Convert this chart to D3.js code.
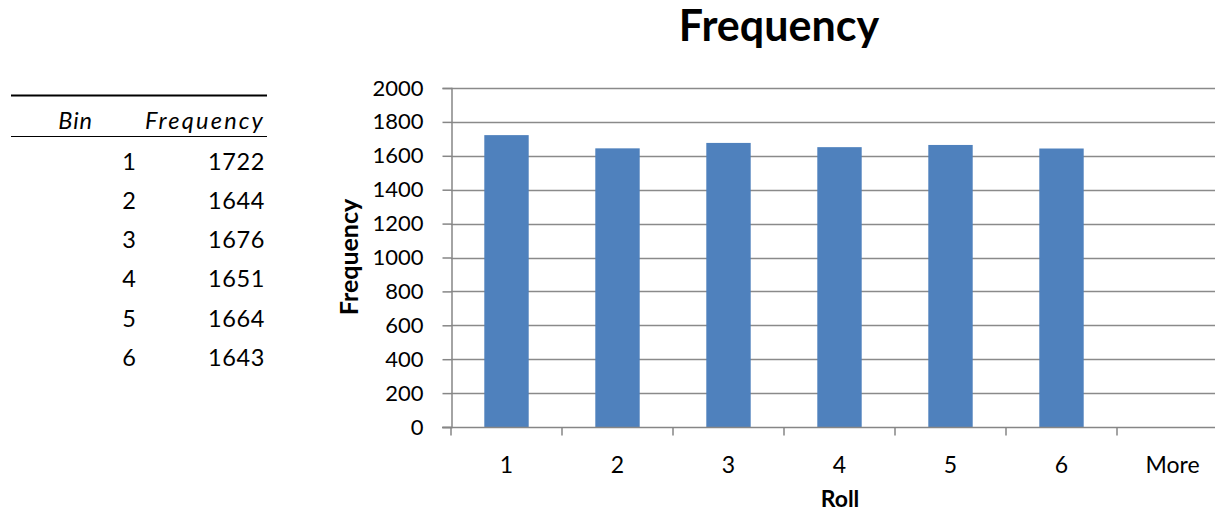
<!DOCTYPE html>
<html><head><meta charset="utf-8">
<script src="https://cdn.jsdelivr.net/npm/d3@7"></script>
<style>body{margin:0;background:#fff;} svg{display:block;font-family:Lato, "Open Sans", sans-serif;}</style>
</head><body>
<svg id="c" width="1215" height="513"></svg>
<script>
const categories = ["1","2","3","4","5","6","More"];
const frequencies = [1722,1644,1676,1651,1664,1643,0];
const tableBins = [1,2,3,4,5,6];
const tableFreq = [1722,1644,1676,1651,1664,1643];
const yTicks = [0,200,400,600,800,1000,1200,1400,1600,1800,2000];

(function(){
const svg = d3.select("#c");
const pLeft = 451, pRight = 1228, pTop = 88, pBottom = 427;
const x = d3.scaleBand().domain(categories).range([pLeft, pRight]).paddingInner(0).paddingOuter(0);
const y = d3.scaleLinear().domain([0,2000]).range([pBottom, pTop]);

// table
const tfs = 23.5;
const tb = svg.append("g");
tb.append("line").attr("x1",11).attr("x2",267).attr("y1",95.5).attr("y2",95.5).attr("stroke","#000").attr("stroke-width",2);
tb.append("line").attr("x1",11).attr("x2",267).attr("y1",136.5).attr("y2",136.5).attr("stroke","#000").attr("stroke-width",1);
tb.append("text").attr("x",93).attr("y",129).attr("text-anchor","end").attr("font-style","italic").attr("font-size",tfs).attr("letter-spacing",1).text("Bin");
tb.append("text").attr("x",265).attr("y",129).attr("text-anchor","end").attr("font-style","italic").attr("font-size",tfs).attr("letter-spacing",2.2).text("Frequency");
const rowY = d3.scaleLinear().domain([0,5]).range([169.5,366]);
tableBins.forEach((b,i)=>{
  tb.append("text").attr("x",136).attr("y",rowY(i)).attr("text-anchor","end").attr("font-size",tfs).text(b);
  tb.append("text").attr("x",265).attr("y",rowY(i)).attr("text-anchor","end").attr("font-size",tfs).attr("letter-spacing",0.6).text(tableFreq[i]);
});

// gridlines
svg.append("g").selectAll("line").data(yTicks.filter(d=>d>0)).join("line")
  .attr("x1",pLeft).attr("x2",pRight).attr("y1",d=>Math.round(y(d))+0.5).attr("y2",d=>Math.round(y(d))+0.5)
  .attr("stroke","#8a8a8a").attr("stroke-width",1.5);

// bars
const bw = x.bandwidth()*0.4;
svg.append("g").selectAll("rect").data(categories.map((c,i)=>({c,v:frequencies[i]})).filter(d=>d.v>0)).join("rect")
  .attr("x",d=>x(d.c)+x.bandwidth()/2-bw/2).attr("width",bw)
  .attr("y",d=>y(d.v)).attr("height",d=>y(0)-y(d.v)).attr("fill","#4F81BD");

// y axis
const ya = svg.append("g").attr("transform",`translate(${pLeft+0.5},0)`)
  .call(d3.axisLeft(y).tickValues(yTicks).tickSize(9).tickPadding(19).tickFormat(d3.format("d")));
ya.select(".domain").attr("stroke","#868686").attr("stroke-width",1.5);
ya.selectAll(".tick line").attr("stroke","#868686").attr("stroke-width",1.5);
ya.selectAll("text").attr("font-size",22).attr("fill","#000").attr("font-family","Lato, sans-serif");

// x axis
const xa = svg.append("g").attr("transform",`translate(0,${pBottom+0.5})`);
xa.append("line").attr("x1",pLeft-9).attr("x2",pRight).attr("stroke","#868686").attr("stroke-width",1.5);
xa.selectAll("line.t").data(categories).join("line").attr("class","t")
  .attr("x1",d=>x(d)).attr("x2",d=>x(d)).attr("y1",0).attr("y2",8).attr("stroke","#868686").attr("stroke-width",1.5);
xa.selectAll("text").data(categories).join("text")
  .attr("x",d=>x(d)+x.bandwidth()/2).attr("y",45).attr("text-anchor","middle").attr("font-size",23).text(d=>d);

// titles
svg.append("text").attr("x",779).attr("y",41).attr("text-anchor","middle").attr("font-weight","bold").attr("font-size",43).text("Frequency");
svg.append("text").attr("x",840).attr("y",507).attr("text-anchor","middle").attr("font-weight","bold").attr("font-size",23).text("Roll");
svg.append("text").attr("transform","translate(358,257) rotate(-90)").attr("text-anchor","middle").attr("font-weight","bold").attr("font-size",25).text("Frequency");
})();
</script>
</body></html>
